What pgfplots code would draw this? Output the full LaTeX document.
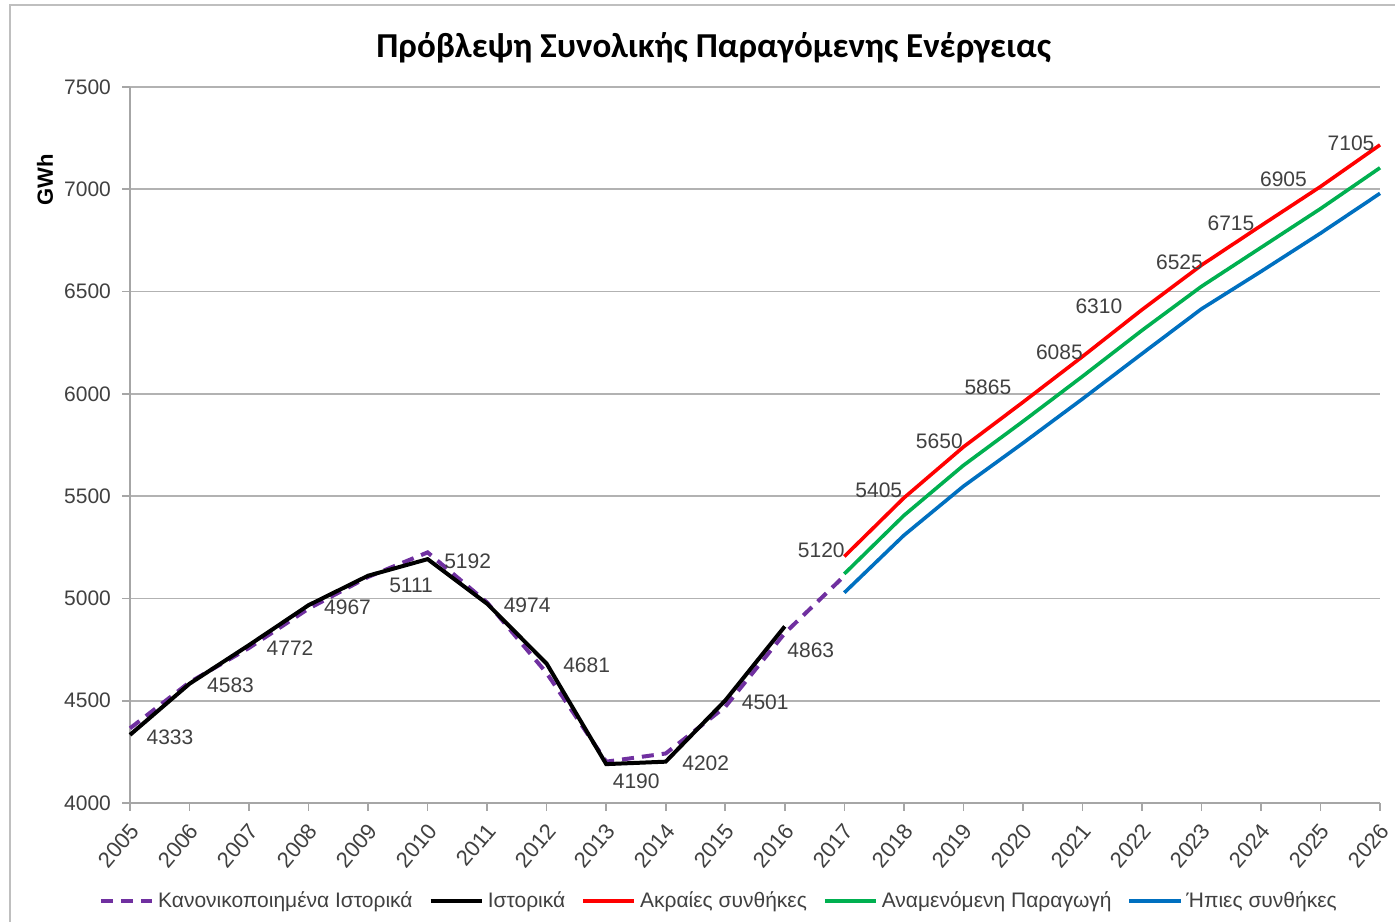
\documentclass[border=0pt]{standalone}
\usepackage{pgfplots}
\pgfplotsset{compat=1.18}
\usepackage{pgfplotstable}
\usepackage{fontspec}
\setmainfont{Liberation Sans}
\newfontfamily\titlefont{Carlito}
\definecolor{cpurple}{RGB}{112,48,160}
\definecolor{cred}{RGB}{255,0,0}
\definecolor{cgreen}{RGB}{0,176,80}
\definecolor{cblue}{RGB}{0,112,192}
\definecolor{txt}{RGB}{64,64,64}

\pgfplotstableread{
x y
2005 4365
2006 4590
2007 4758
2008 4950
2009 5105
2010 5225
2011 4980
2012 4635
2013 4202
2014 4242
2015 4470
2016 4830
2017 5110
}\normtab

\pgfplotstableread{
x y lab dx dy
2005 4333 4333 20 -1
2006 4583 4583 20.5 -1
2007 4772 4772 20.5 -1.5
2008 4967 4967 19.5 -1
2009 5111 5111 21.5 -5
2010 5192 5192 20 -1
2011 4974 4974 20 -1
2012 4681 4681 20 -1
2013 4190 4190 15 -8.5
2014 4202 4202 20 -1
2015 4501 4501 20 -1
2016 4863 4863 13 -12
}\histtab

\pgfplotstableread{
x y
2017 5205
2018 5491
2019 5740
2020 5959
2021 6182
2022 6411
2023 6629
2024 6822
2025 7013
2026 7217
}\redtab

\pgfplotstableread{
x y lab dx dy
2017 5120 5120 -11.5 12
2018 5405 5405 -12.5 12.5
2019 5650 5650 -12 12
2020 5865 5865 -17.5 17
2021 6085 6085 -11.5 12
2022 6310 6310 -21.5 12
2023 6525 6525 -11 12
2024 6715 6715 -15 12
2025 6905 6905 -18.5 14.5
2026 7105 7105 -14.5 12.5
}\greentab

\pgfplotstableread{
x y
2017 5028
2018 5308
2019 5548
2020 5759
2021 5975
2022 6196
2023 6415
2024 6598
2025 6785
2026 6980
}\bluetab

\begin{document}
\begin{tikzpicture}
\begin{axis}[
  scale only axis,
  width=625pt, height=358pt,
  xmin=2005, xmax=2026,
  ymin=4000, ymax=7500,
  xtick={2005,2006,...,2026},
  ytick={4000,4500,...,7500},
  /pgf/number format/.cd, 1000 sep={}, assume math mode=true,
  /pgfplots/.cd,
  axis x line*=bottom, axis y line*=left,
  axis line style={gray!70, line width=0.8pt, -},
  tick style={gray!70, line width=0.8pt},
  tick align=outside,
  major tick length=4pt,
  ymajorgrids,
  grid style={gray!60, line width=0.8pt},
  ticklabel style={font=\fontsize{10.5}{12}\selectfont, text=txt},
  xticklabel style={font=\fontsize{11}{12}\selectfont, xshift=3pt, yshift=-7pt, rotate=50, anchor=east, inner sep=1pt},
  yticklabel style={anchor=east, xshift=-2pt},
  title={Πρόβλεψη Συνολικής Παραγόμενης Ενέργειας},
  title style={at={(rel axis cs:0.467,1.038)}, anchor=center, font=\titlefont\bfseries\fontsize{17.5}{20}\selectfont},
  ylabel={GWh},
  ylabel style={at={(rel axis cs:-0.068,0.87)}, anchor=center, font=\bfseries\fontsize{11}{13}\selectfont},
  clip=false,
  legend columns=5,
  legend style={draw=none, fill=none, at={(rel axis cs:-0.03,-0.112)}, anchor=north west,
    font=\fontsize{10.5}{12}\selectfont, text=txt,
    /tikz/every even column/.append style={column sep=6pt},
    /tikz/every odd column/.append style={column sep=0pt}},
  legend image code/.code={\draw[#1] (0cm,0cm) -- (0.9cm,0cm);},
]
\addplot[cpurple, line width=2pt, dash pattern=on 6pt off 4pt] table[x=x,y=y]{\normtab};
\addlegendentry{Κανονικοποιημένα Ιστορικά}
\addplot[black, line width=2pt] table[x=x,y=y]{\histtab};
\addlegendentry{Ιστορικά}
\addplot[cred, line width=1.8pt] table[x=x,y=y]{\redtab};
\addlegendentry{Ακραίες συνθήκες}
\addplot[cgreen, line width=1.8pt] table[x=x,y=y]{\greentab};
\addlegendentry{Αναμενόμενη Παραγωγή}
\addplot[cblue, line width=1.8pt] table[x=x,y=y]{\bluetab};
\addlegendentry{Ήπιες συνθήκες}

\addplot[draw=none, forget plot, nodes near coords, point meta=explicit symbolic,
  visualization depends on={\thisrow{dx}\as\dx},
  visualization depends on={\thisrow{dy}\as\dy},
  every node near coord/.append style={anchor=center, xshift=\dx pt, yshift=\dy pt,
    font=\fontsize{10.5}{12}\selectfont, text=txt}]
  table[x=x,y=y,meta=lab]{\histtab};
\addplot[draw=none, forget plot, nodes near coords, point meta=explicit symbolic,
  visualization depends on={\thisrow{dx}\as\dx},
  visualization depends on={\thisrow{dy}\as\dy},
  every node near coord/.append style={anchor=center, xshift=\dx pt, yshift=\dy pt,
    font=\fontsize{10.5}{12}\selectfont, text=txt}]
  table[x=x,y=y,meta=lab]{\greentab};

\coordinate (bl) at (rel axis cs:-0.104,-0.1662);
\coordinate (tr) at (rel axis cs:1.012,1.1215);
\coordinate (fl) at (rel axis cs:-0.096,-0.1662);
\coordinate (ft) at (rel axis cs:-0.096,1.1145);
\coordinate (fr) at (rel axis cs:1.012,1.1145);
\end{axis}
\draw[gray!50, line width=1pt] (fl) -- (ft) -- (fr);
\pgfresetboundingbox
\useasboundingbox (bl) rectangle (tr);
\end{tikzpicture}
\end{document}
